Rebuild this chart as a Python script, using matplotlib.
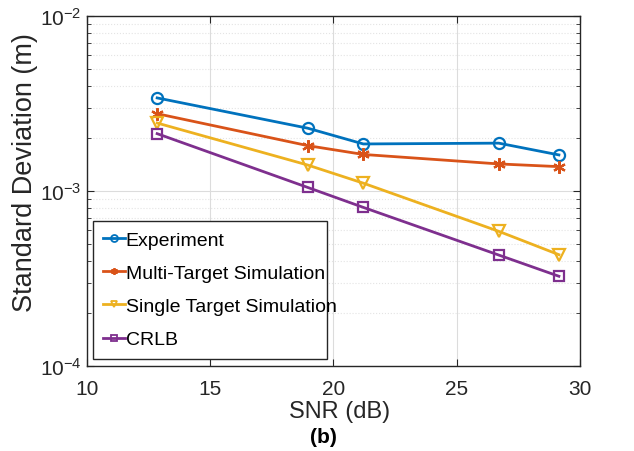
import numpy as np
import matplotlib
matplotlib.use("Agg")
import matplotlib.pyplot as plt
from matplotlib.ticker import LogLocator, NullFormatter, FuncFormatter

plt.rcParams['font.family'] = ['Liberation Sans', 'DejaVu Sans']
plt.rcParams['mathtext.fontset'] = 'custom'
plt.rcParams['mathtext.rm'] = 'Liberation Sans'
plt.rcParams['mathtext.it'] = 'Liberation Sans:italic'
plt.rcParams['mathtext.bf'] = 'Liberation Sans:bold'

# SNR values (dB)
snr = [12.85, 18.95, 21.21, 26.70, 29.14]

# standard deviation (m) per series
experiment = [3.41e-3, 2.29e-3, 1.86e-3, 1.88e-3, 1.61e-3]
multi_target = [2.77e-3, 1.82e-3, 1.62e-3, 1.43e-3, 1.38e-3]
single_target = [2.45e-3, 1.41e-3, 1.11e-3, 5.89e-4, 4.33e-4]
crlb = [2.13e-3, 1.05e-3, 8.07e-4, 4.31e-4, 3.26e-4]

labels = ['Experiment', 'Multi-Target Simulation', 'Single Target Simulation', 'CRLB']
colors = ['#0072BD', '#D95319', '#EDB120', '#7E2F8E']
markers = ['o', (6, 2, 0), 'v', 's']
msizes = [8, 9, 8, 7]

fig = plt.figure(figsize=(6.34, 4.52), dpi=100)
ax = fig.add_axes([0.137, 0.188, 0.778, 0.774])

for ys, lab, c, m, ms in zip([experiment, multi_target, single_target, crlb], labels, colors, markers, msizes):
    ax.plot(snr, ys, color=c, marker=m, markersize=ms, markerfacecolor='none',
            markeredgecolor=c, markeredgewidth=1.6, linewidth=2, label=lab)

ax.set_yscale('log')
ax.set_xlim(10, 30)
ax.set_ylim(1e-4, 1e-2)
ax.set_xticks([10, 15, 20, 25, 30])
ax.yaxis.set_major_formatter(FuncFormatter(lambda v, p: '10$^{\\mathregular{%d}}$' % round(np.log10(v))))
ax.yaxis.set_minor_locator(LogLocator(base=10, subs=np.arange(2, 10), numticks=20))
ax.yaxis.set_minor_formatter(NullFormatter())

ax.grid(True, which='major', color='#dcdcdc', linewidth=0.8)
ax.grid(True, which='minor', axis='y', color='#e4e4e4', linestyle=':', linewidth=0.8)
ax.set_axisbelow(True)

ax.tick_params(which='both', direction='in', top=True, right=True, labelsize=15, colors='#262626')
ax.tick_params(which='major', length=5)
ax.tick_params(which='minor', length=3)
ax.tick_params(axis='x', pad=9)
ax.tick_params(axis='y', pad=4)
for s in ax.spines.values():
    s.set_color('#262626')
    s.set_linewidth(1.0)

ax.set_xlabel('SNR (dB)', fontsize=17, color='#262626')
ax.set_ylabel('Standard Deviation (m)', fontsize=19.5, color='#262626')
ax.xaxis.set_label_coords(0.513, -0.128)
ax.yaxis.set_label_coords(-0.125, 0.557)
ax.xaxis.label.set_va('center')
ax.yaxis.label.set_va('center')

leg = ax.legend(loc='lower left', bbox_to_anchor=(0.012, 0.02, 0.475, 0.406), mode='expand',
                fontsize=14, handlelength=1.1, handletextpad=0.05, labelspacing=0.8,
                borderpad=0.55, fancybox=False, framealpha=1, borderaxespad=0)
leg.get_frame().set_edgecolor('#262626')
leg.get_frame().set_linewidth(1.0)
for h in leg.legend_handles:
    h.set_markersize(5)
    h.set_markeredgewidth(1.3)

fig.text(0.51, 0.01, '(b)', fontsize=15, fontweight='bold', ha='center', va='bottom')

fig.savefig('out.png', dpi=100)
